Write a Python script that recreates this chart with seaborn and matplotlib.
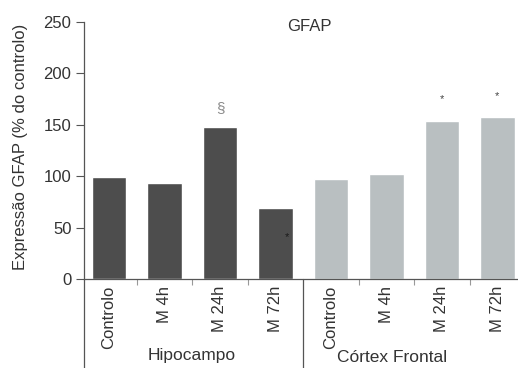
import matplotlib
matplotlib.use("Agg")
import matplotlib.pyplot as plt
import seaborn as sns
import pandas as pd

regions = ["Hipocampo", "Córtex Frontal"]
conditions = ["Controlo", "M 4h", "M 24h", "M 72h"]
hipocampo_values = [99, 93, 148, 69]
cortex_values = [97, 102, 154, 158]
region_colors = ["#4d4d4d", "#b9bfc1"]

# marks above / inside bars: (bar index, y value, symbol, colour)
marks = [(2, 166, "§", "#8a8a8a"), (6, 175, "*", "#444444"),
         (7, 178, "*", "#444444"), (3.2, 41, "*", "#1a1a1a")]

rows = []
for reg, vals in zip(regions, [hipocampo_values, cortex_values]):
    for cond, v in zip(conditions, vals):
        rows.append({"key": f"{reg}|{cond}", "region": reg, "cond": cond, "value": v})
df = pd.DataFrame(rows)

sns.set_style("white")
plt.rcParams["font.family"] = ["Liberation Sans", "DejaVu Sans"]
text_color = "#333333"

fig = plt.figure(figsize=(5.18, 3.68), dpi=100)
ax = fig.add_axes([0.162, 0.242, 0.838, 0.698])

sns.barplot(data=df, x="key", y="value", hue="region", palette=region_colors,
            dodge=False, width=0.62, legend=False, ax=ax, saturation=1)

ax.set_ylim(0, 250)
ax.set_xlim(-0.45, 7.37)
ax.set_yticks([0, 50, 100, 150, 200, 250])
ax.tick_params(axis="y", length=6, width=0.8, color="#555555", labelsize=12,
               labelcolor=text_color, direction="out", left=True, pad=3)
ax.set_xticks(range(len(df)))
ax.set_xticklabels(df["cond"], rotation=90, fontsize=12, color=text_color)
ax.tick_params(axis="x", length=0, pad=5)
ax.set_xticks([0.5, 1.5, 2.5, 4.5, 5.5, 6.5], minor=True)
ax.tick_params(axis="x", which="minor", length=4, width=0.8, color="#999999",
               direction="out", bottom=True)
ax.set_xlabel("")
ax.set_ylabel("")

for side in ["top", "right"]:
    ax.spines[side].set_visible(False)
for side in ["left", "bottom"]:
    ax.spines[side].set_color("#555555")
    ax.spines[side].set_linewidth(0.9)

# separators running down into the label area
ax.plot([0, 0], [0, -0.36], transform=ax.transAxes, color="#555555",
        lw=0.9, clip_on=False)
sep_x = ax.transData.transform((3.5, 0))[0]
sep_ax = ax.transAxes.inverted().transform((sep_x, 0))[0]
ax.plot([sep_ax, sep_ax], [0, -0.36], transform=ax.transAxes, color="#555555",
        lw=0.9, clip_on=False)

for x, y, sym, col in marks:
    ax.text(x, y, sym, ha="center", va="center", fontsize=11 if sym == "§" else 8,
            color=col, zorder=5)

fig.text(0.37, 0.035, "Hipocampo", ha="center", va="center", fontsize=12.5,
         color=text_color)
fig.text(0.756, 0.028, "Córtex Frontal", ha="center", va="center", fontsize=12.5,
         color=text_color)
fig.text(0.597, 0.927, "GFAP", ha="center", va="center", fontsize=12,
         color=text_color)
fig.text(0.04, 0.60, "Expressão GFAP (% do controlo)", rotation=90,
         ha="center", va="center", fontsize=12, color=text_color)

fig.savefig("out.png", dpi=100)
